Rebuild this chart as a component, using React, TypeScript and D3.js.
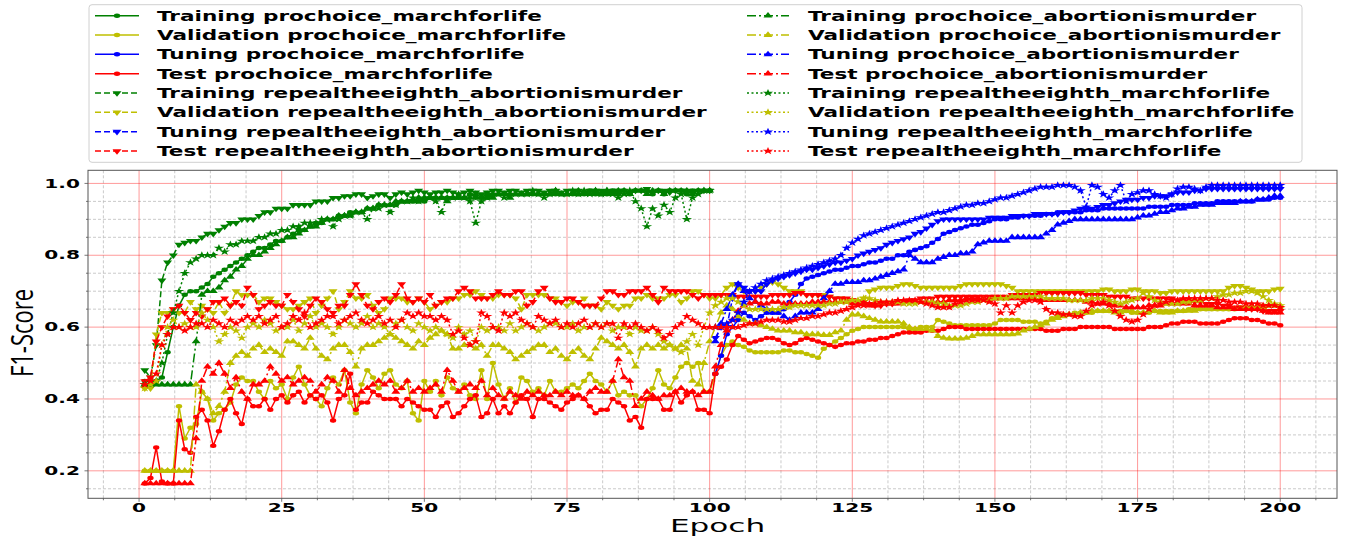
import React, { useEffect, useRef } from "react";
import * as d3 from "d3";

// ---- data (F1 per epoch) ----
// training: epochs 1..100, tuning: epochs 101..200, validation/test: epochs 1..200
const trainProchoiceMarch = [
  0.45, 0.45, 0.45, 0.46, 0.53, 0.6, 0.66, 0.69, 0.7, 0.7,
  0.71, 0.72, 0.74, 0.75, 0.76, 0.77, 0.78, 0.79, 0.8, 0.81,
  0.82, 0.82, 0.83, 0.84, 0.84, 0.85, 0.86, 0.87, 0.87, 0.88,
  0.89, 0.89, 0.9, 0.9, 0.91, 0.91, 0.92, 0.92, 0.92, 0.93,
  0.93, 0.94, 0.94, 0.94, 0.94, 0.95, 0.95, 0.95, 0.95, 0.95,
  0.96, 0.96, 0.96, 0.96, 0.96, 0.96, 0.96, 0.97, 0.96, 0.96,
  0.96, 0.97, 0.97, 0.97, 0.97, 0.97, 0.97, 0.97, 0.97, 0.97,
  0.97, 0.97, 0.97, 0.97, 0.97, 0.97, 0.97, 0.97, 0.98, 0.97,
  0.97, 0.97, 0.98, 0.97, 0.98, 0.97, 0.98, 0.98, 0.98, 0.97,
  0.98, 0.97, 0.98, 0.98, 0.98, 0.97, 0.98, 0.98, 0.98, 0.98,
];
const trainRepealAbortion = [
  0.48, 0.46, 0.55, 0.73, 0.78, 0.8, 0.83, 0.835, 0.84, 0.84,
  0.85, 0.86, 0.86, 0.87, 0.88, 0.89, 0.89, 0.9, 0.9, 0.9,
  0.91, 0.92, 0.92, 0.93, 0.93, 0.93, 0.94, 0.94, 0.94, 0.94,
  0.95, 0.95, 0.95, 0.96, 0.96, 0.965, 0.965, 0.97, 0.97, 0.96,
  0.965, 0.97, 0.97, 0.96, 0.97, 0.975, 0.97, 0.975, 0.98, 0.975,
  0.97, 0.975, 0.975, 0.98, 0.975, 0.97, 0.975, 0.98, 0.975, 0.97,
  0.975, 0.98, 0.98, 0.975, 0.98, 0.98, 0.975, 0.98, 0.98, 0.98,
  0.975, 0.98, 0.98, 0.975, 0.98, 0.98, 0.98, 0.975, 0.98, 0.98,
  0.98, 0.975, 0.98, 0.98, 0.98, 0.975, 0.98, 0.98, 0.985, 0.975,
  0.98, 0.98, 0.975, 0.98, 0.98, 0.98, 0.975, 0.98, 0.98, 0.98,
];
const trainProchoiceAbortion = [
  0.44, 0.44, 0.44, 0.44, 0.44, 0.44, 0.44, 0.44, 0.44, 0.56,
  0.69, 0.7, 0.7, 0.71, 0.73, 0.74, 0.76, 0.77, 0.79, 0.8,
  0.8, 0.81, 0.82, 0.83, 0.84, 0.85, 0.85, 0.86, 0.87, 0.88,
  0.88, 0.89, 0.9, 0.9, 0.91, 0.91, 0.91, 0.92, 0.92, 0.93,
  0.93, 0.94, 0.94, 0.94, 0.95, 0.95, 0.95, 0.95, 0.96, 0.96,
  0.96, 0.96, 0.96, 0.95, 0.96, 0.96, 0.96, 0.96, 0.97, 0.96,
  0.97, 0.96, 0.97, 0.97, 0.96, 0.97, 0.97, 0.97, 0.97, 0.97,
  0.97, 0.97, 0.98, 0.97, 0.97, 0.97, 0.98, 0.97, 0.97, 0.98,
  0.97, 0.98, 0.97, 0.98, 0.98, 0.97, 0.98, 0.98, 0.97, 0.98,
  0.98, 0.97, 0.98, 0.98, 0.98, 0.98, 0.97, 0.98, 0.98, 0.98,
];
const trainRepealMarch = [
  0.44, 0.44, 0.45, 0.5, 0.58, 0.64, 0.7, 0.75, 0.78, 0.79,
  0.8, 0.8, 0.8, 0.82, 0.81, 0.83, 0.83, 0.84, 0.84, 0.84,
  0.85, 0.85, 0.86, 0.86, 0.87, 0.87, 0.88, 0.88, 0.89, 0.89,
  0.89, 0.9, 0.9, 0.88, 0.9, 0.91, 0.91, 0.92, 0.92, 0.9,
  0.93, 0.93, 0.94, 0.92, 0.94, 0.95, 0.95, 0.96, 0.95, 0.96,
  0.96, 0.95, 0.92, 0.96, 0.96, 0.97, 0.96, 0.95, 0.89, 0.95,
  0.96, 0.97, 0.97, 0.96, 0.97, 0.97, 0.97, 0.97, 0.98, 0.97,
  0.96, 0.97, 0.98, 0.97, 0.97, 0.98, 0.97, 0.98, 0.97, 0.98,
  0.97, 0.98, 0.97, 0.96, 0.97, 0.98, 0.95, 0.93, 0.88, 0.93,
  0.91, 0.94, 0.92, 0.96, 0.97, 0.9, 0.96, 0.97, 0.98, 0.98,
];

const tuneProchoiceMarch = [
  0.47, 0.52, 0.58, 0.6, 0.62, 0.64, 0.63, 0.62, 0.63, 0.64,
  0.64, 0.64, 0.65, 0.67, 0.69, 0.72, 0.735, 0.74, 0.745, 0.75,
  0.755, 0.76, 0.76, 0.765, 0.77, 0.77, 0.775, 0.78, 0.78, 0.785,
  0.79, 0.79, 0.8, 0.8, 0.81, 0.815, 0.82, 0.825, 0.835, 0.845,
  0.86, 0.865, 0.87, 0.875, 0.88, 0.885, 0.885, 0.89, 0.895, 0.9,
  0.9, 0.9, 0.905, 0.905, 0.91, 0.91, 0.91, 0.91, 0.915, 0.915,
  0.92, 0.92, 0.92, 0.92, 0.92, 0.925, 0.925, 0.925, 0.93, 0.93,
  0.93, 0.93, 0.93, 0.93, 0.93, 0.93, 0.935, 0.935, 0.935, 0.935,
  0.94, 0.94, 0.94, 0.94, 0.945, 0.945, 0.945, 0.945, 0.95, 0.95,
  0.95, 0.95, 0.95, 0.95, 0.95, 0.955, 0.955, 0.955, 0.96, 0.96,
];
const tuneRepealAbortion = [
  0.57, 0.6, 0.6, 0.68, 0.72, 0.71, 0.7, 0.7, 0.7, 0.72,
  0.73, 0.735, 0.74, 0.745, 0.75, 0.755, 0.76, 0.76, 0.765, 0.77,
  0.775, 0.78, 0.78, 0.785, 0.79, 0.8, 0.805, 0.81, 0.815, 0.82,
  0.83, 0.835, 0.84, 0.845, 0.85, 0.86, 0.865, 0.875, 0.885, 0.895,
  0.9, 0.9, 0.9, 0.9, 0.9, 0.9, 0.9, 0.9, 0.905, 0.905,
  0.905, 0.905, 0.91, 0.91, 0.91, 0.91, 0.915, 0.915, 0.915, 0.915,
  0.915, 0.92, 0.92, 0.925, 0.93, 0.93, 0.93, 0.935, 0.94, 0.94,
  0.945, 0.95, 0.955, 0.955, 0.955, 0.96, 0.96, 0.965, 0.965, 0.965,
  0.97, 0.975, 0.975, 0.975, 0.98, 0.98, 0.985, 0.985, 0.985, 0.985,
  0.985, 0.985, 0.985, 0.985, 0.985, 0.985, 0.985, 0.985, 0.985, 0.985,
];
const tuneProchoiceAbortion = [
  0.56, 0.61, 0.65, 0.69, 0.72, 0.7, 0.68, 0.67, 0.66, 0.65,
  0.64, 0.64, 0.63, 0.62, 0.63, 0.64, 0.64, 0.64, 0.65, 0.68,
  0.7, 0.72, 0.72, 0.725, 0.725, 0.725, 0.73, 0.73, 0.735, 0.74,
  0.745, 0.75, 0.755, 0.76, 0.8, 0.79, 0.78, 0.78, 0.78, 0.79,
  0.795, 0.8, 0.8, 0.805, 0.805, 0.81, 0.83, 0.835, 0.84, 0.84,
  0.84, 0.84, 0.85, 0.85, 0.85, 0.85, 0.85, 0.85, 0.86, 0.87,
  0.885, 0.89, 0.895, 0.9, 0.9, 0.9, 0.9, 0.9, 0.9, 0.9,
  0.9, 0.9, 0.9, 0.9, 0.905, 0.91, 0.91, 0.915, 0.92, 0.92,
  0.925, 0.93, 0.93, 0.935, 0.935, 0.94, 0.94, 0.94, 0.945, 0.945,
  0.945, 0.945, 0.95, 0.95, 0.95, 0.955, 0.955, 0.96, 0.965, 0.965,
];
const tuneRepealMarch = [
  0.6, 0.6, 0.61, 0.62, 0.64, 0.67, 0.7, 0.71, 0.72, 0.73,
  0.735, 0.74, 0.745, 0.75, 0.755, 0.76, 0.765, 0.77, 0.775, 0.78,
  0.785, 0.79, 0.8, 0.82, 0.835, 0.845, 0.855, 0.86, 0.865, 0.87,
  0.875, 0.88, 0.885, 0.89, 0.895, 0.9, 0.905, 0.91, 0.915, 0.92,
  0.92, 0.925, 0.93, 0.935, 0.94, 0.94, 0.945, 0.945, 0.95, 0.955,
  0.96, 0.96, 0.965, 0.97, 0.975, 0.98, 0.985, 0.99, 0.99, 0.99,
  0.995, 0.995, 0.995, 0.99, 0.98, 0.935, 0.995, 0.99, 0.97, 0.96,
  0.98, 0.995, 0.95, 0.97, 0.975, 0.98, 0.98, 0.97, 0.965, 0.96,
  0.97, 0.985, 0.99, 0.99, 0.985, 0.98, 0.99, 0.995, 0.995, 0.995,
  0.995, 0.995, 0.995, 0.995, 0.995, 0.995, 0.995, 0.995, 0.995, 0.995,
];

const valProchoiceMarch = [
  0.2, 0.2, 0.2, 0.2, 0.2, 0.2, 0.38, 0.29, 0.32, 0.33,
  0.42, 0.4, 0.34, 0.36, 0.37, 0.39, 0.44, 0.46, 0.45, 0.45,
  0.42, 0.4, 0.45, 0.43, 0.44, 0.4, 0.46, 0.49, 0.44, 0.41,
  0.4, 0.38, 0.43, 0.46, 0.44, 0.48, 0.39, 0.36, 0.44, 0.48,
  0.46, 0.43, 0.47, 0.48, 0.44, 0.43, 0.45, 0.36, 0.34, 0.45,
  0.42, 0.45, 0.41, 0.46, 0.43, 0.42, 0.44, 0.41, 0.4, 0.48,
  0.4, 0.5, 0.44, 0.4, 0.43, 0.39, 0.46, 0.45, 0.42, 0.43,
  0.41, 0.45, 0.42, 0.42, 0.43, 0.44, 0.43, 0.45, 0.47, 0.45,
  0.44, 0.42, 0.45, 0.41, 0.42, 0.41, 0.41, 0.38, 0.4, 0.43,
  0.48, 0.44, 0.43, 0.46, 0.49, 0.5, 0.49, 0.5, 0.42, 0.42,
  0.47, 0.52, 0.55, 0.56, 0.55, 0.545, 0.535, 0.53, 0.53, 0.53,
  0.53, 0.53, 0.535, 0.535, 0.53, 0.53, 0.525, 0.52, 0.515, 0.54,
  0.55, 0.56, 0.57, 0.58, 0.59, 0.595, 0.6, 0.6, 0.6, 0.6,
  0.6, 0.6, 0.6, 0.6, 0.595, 0.595, 0.6, 0.6, 0.6, 0.62,
  0.615, 0.61, 0.605, 0.605, 0.605, 0.605, 0.605, 0.605, 0.605, 0.61,
  0.62, 0.62, 0.62, 0.62, 0.615, 0.615, 0.615, 0.61, 0.615, 0.625,
  0.63, 0.635, 0.635, 0.64, 0.64, 0.64, 0.64, 0.645, 0.645, 0.645,
  0.645, 0.645, 0.645, 0.64, 0.64, 0.64, 0.64, 0.645, 0.645, 0.645,
  0.645, 0.645, 0.645, 0.65, 0.65, 0.65, 0.65, 0.65, 0.65, 0.65,
  0.65, 0.65, 0.655, 0.655, 0.655, 0.655, 0.66, 0.66, 0.66, 0.655,
];
const valRepealAbortion = [
  0.43, 0.43, 0.58, 0.64, 0.64, 0.65, 0.64, 0.64, 0.67, 0.65,
  0.66, 0.65, 0.64, 0.67, 0.64, 0.66, 0.7, 0.69, 0.69, 0.69,
  0.67, 0.68, 0.68, 0.67, 0.66, 0.65, 0.65, 0.66, 0.67, 0.68,
  0.64, 0.66, 0.68, 0.7, 0.65, 0.67, 0.7, 0.68, 0.68, 0.69,
  0.66, 0.64, 0.65, 0.68, 0.68, 0.68, 0.67, 0.67, 0.68, 0.67,
  0.65, 0.66, 0.67, 0.67, 0.68, 0.68, 0.69, 0.69, 0.7, 0.69,
  0.68, 0.68, 0.69, 0.69, 0.69, 0.68, 0.65, 0.69, 0.69, 0.69,
  0.69, 0.68, 0.68, 0.67, 0.66, 0.67, 0.67, 0.68, 0.66, 0.66,
  0.65, 0.67, 0.66, 0.65, 0.66, 0.66, 0.68, 0.68, 0.69, 0.68,
  0.68, 0.68, 0.69, 0.69, 0.67, 0.68, 0.7, 0.7, 0.69, 0.68,
  0.68, 0.69, 0.71, 0.72, 0.71, 0.7, 0.7, 0.7, 0.71, 0.72,
  0.725, 0.72, 0.71, 0.7, 0.7, 0.7, 0.69, 0.69, 0.69, 0.69,
  0.685, 0.68, 0.68, 0.675, 0.675, 0.67, 0.68, 0.7, 0.705, 0.71,
  0.71, 0.71, 0.715, 0.72, 0.72, 0.715, 0.71, 0.71, 0.71, 0.71,
  0.71, 0.71, 0.71, 0.715, 0.72, 0.72, 0.72, 0.72, 0.72, 0.72,
  0.72, 0.715, 0.71, 0.7, 0.7, 0.7, 0.7, 0.7, 0.7, 0.7,
  0.7, 0.7, 0.7, 0.7, 0.7, 0.7, 0.7, 0.7, 0.705, 0.705,
  0.7, 0.7, 0.7, 0.705, 0.705, 0.7, 0.7, 0.7, 0.695, 0.695,
  0.7, 0.7, 0.7, 0.7, 0.7, 0.7, 0.7, 0.7, 0.7, 0.7,
  0.71, 0.715, 0.715, 0.71, 0.705, 0.7, 0.7, 0.7, 0.705, 0.707,
];
const valProchoiceAbortion = [
  0.2, 0.2, 0.2, 0.2, 0.2, 0.2, 0.2, 0.2, 0.2, 0.44,
  0.42, 0.4, 0.36, 0.38, 0.42, 0.5, 0.52, 0.53, 0.52, 0.54,
  0.55, 0.53, 0.54, 0.53, 0.52, 0.56, 0.56, 0.55, 0.54, 0.57,
  0.54, 0.52, 0.51, 0.54, 0.55, 0.55, 0.53, 0.49, 0.54, 0.55,
  0.55, 0.56, 0.57, 0.58, 0.57, 0.56, 0.55, 0.54, 0.56, 0.55,
  0.57, 0.58, 0.59, 0.58, 0.54, 0.54, 0.55, 0.55, 0.54, 0.55,
  0.52, 0.55, 0.55, 0.54, 0.53, 0.51, 0.52, 0.53, 0.54, 0.55,
  0.55, 0.53, 0.54, 0.52, 0.51, 0.53, 0.54, 0.52, 0.51, 0.54,
  0.57, 0.56, 0.55, 0.54, 0.55, 0.53, 0.49, 0.54, 0.55, 0.54,
  0.55, 0.54, 0.55, 0.54, 0.55, 0.54, 0.45, 0.44, 0.5, 0.56,
  0.6, 0.64, 0.66, 0.65, 0.63, 0.62, 0.61, 0.61, 0.605, 0.6,
  0.595, 0.59, 0.59, 0.59, 0.585, 0.585, 0.58, 0.58, 0.58, 0.578,
  0.578, 0.585, 0.59, 0.62, 0.635, 0.635, 0.63, 0.625, 0.62, 0.615,
  0.615, 0.615, 0.615, 0.61, 0.6, 0.595, 0.595, 0.595, 0.59, 0.575,
  0.57, 0.568, 0.568, 0.568, 0.57, 0.575, 0.58, 0.58, 0.58, 0.58,
  0.58, 0.58, 0.58, 0.582, 0.59, 0.595, 0.6, 0.605, 0.61, 0.62,
  0.625, 0.63, 0.635, 0.635, 0.64, 0.64, 0.645, 0.645, 0.645, 0.645,
  0.64, 0.64, 0.645, 0.645, 0.64, 0.64, 0.645, 0.645, 0.64, 0.64,
  0.64, 0.645, 0.645, 0.645, 0.645, 0.65, 0.65, 0.65, 0.65, 0.65,
  0.65, 0.65, 0.65, 0.655, 0.655, 0.655, 0.655, 0.66, 0.66, 0.66,
];
const valRepealMarch = [
  0.43, 0.44, 0.45, 0.55, 0.6, 0.62, 0.6, 0.61, 0.6, 0.6,
  0.64, 0.62, 0.6, 0.56, 0.58, 0.6, 0.59, 0.57, 0.6, 0.61,
  0.6, 0.62, 0.61, 0.59, 0.6, 0.6, 0.62, 0.59, 0.61, 0.63,
  0.6, 0.61, 0.6, 0.58, 0.6, 0.62, 0.61, 0.6, 0.61, 0.63,
  0.6, 0.61, 0.6, 0.58, 0.61, 0.62, 0.6, 0.59, 0.61, 0.6,
  0.59, 0.6, 0.59, 0.58, 0.57, 0.6, 0.58, 0.59, 0.56, 0.6,
  0.59, 0.6, 0.6, 0.59, 0.61, 0.59, 0.6, 0.61, 0.6, 0.59,
  0.6, 0.61, 0.61, 0.6, 0.6, 0.61, 0.59, 0.6, 0.6, 0.61,
  0.6, 0.61, 0.59, 0.6, 0.6, 0.58, 0.6, 0.59, 0.59, 0.6,
  0.58, 0.56, 0.55, 0.54, 0.53, 0.56, 0.58, 0.55, 0.6, 0.64,
  0.66, 0.67, 0.68, 0.68, 0.67, 0.66, 0.65, 0.65, 0.65, 0.65,
  0.65, 0.65, 0.655, 0.655, 0.66, 0.66, 0.66, 0.66, 0.66, 0.66,
  0.665, 0.665, 0.67, 0.67, 0.675, 0.675, 0.68, 0.68, 0.675, 0.67,
  0.67, 0.67, 0.67, 0.665, 0.665, 0.665, 0.67, 0.67, 0.67, 0.665,
  0.665, 0.66, 0.66, 0.66, 0.665, 0.67, 0.67, 0.675, 0.675, 0.68,
  0.68, 0.68, 0.685, 0.685, 0.685, 0.685, 0.685, 0.685, 0.68, 0.68,
  0.68, 0.68, 0.675, 0.675, 0.675, 0.675, 0.68, 0.68, 0.68, 0.675,
  0.67, 0.665, 0.67, 0.675, 0.68, 0.695, 0.685, 0.675, 0.67, 0.665,
  0.665, 0.665, 0.67, 0.67, 0.675, 0.675, 0.68, 0.68, 0.685, 0.69,
  0.69, 0.695, 0.695, 0.7, 0.7, 0.695, 0.685, 0.675, 0.665, 0.66,
];

const testProchoiceMarch = [
  0.165, 0.18, 0.265, 0.17, 0.165, 0.165, 0.34, 0.26, 0.25, 0.35,
  0.37, 0.34, 0.27, 0.31, 0.37, 0.4, 0.36, 0.33, 0.4, 0.38,
  0.38, 0.4, 0.37, 0.4, 0.41, 0.39, 0.41, 0.42, 0.39, 0.41,
  0.4, 0.41, 0.39, 0.34, 0.4, 0.41, 0.47, 0.37, 0.39, 0.39,
  0.42, 0.41, 0.4, 0.4, 0.4, 0.38, 0.4, 0.39, 0.38, 0.37,
  0.37, 0.35, 0.38, 0.39, 0.35, 0.36, 0.38, 0.4, 0.41, 0.35,
  0.36, 0.4, 0.36, 0.38, 0.36, 0.39, 0.41, 0.4, 0.35, 0.4,
  0.4, 0.39, 0.38, 0.37, 0.39, 0.4, 0.41, 0.4, 0.38, 0.36,
  0.37, 0.37, 0.4, 0.39, 0.38, 0.34, 0.35, 0.32, 0.4, 0.4,
  0.4, 0.37, 0.37, 0.42, 0.39, 0.41, 0.42, 0.37, 0.37, 0.36,
  0.47, 0.49, 0.51, 0.55, 0.575, 0.565, 0.555, 0.56, 0.565, 0.57,
  0.57, 0.565, 0.555, 0.55, 0.555, 0.565, 0.57, 0.565, 0.56, 0.555,
  0.55, 0.545, 0.55, 0.555, 0.555, 0.56, 0.56, 0.565, 0.565, 0.57,
  0.57, 0.575, 0.58, 0.585, 0.585, 0.585, 0.585, 0.59, 0.59, 0.59,
  0.595, 0.6, 0.6, 0.6, 0.595, 0.595, 0.595, 0.595, 0.595, 0.595,
  0.595, 0.595, 0.595, 0.595, 0.595, 0.595, 0.595, 0.595, 0.59, 0.59,
  0.59, 0.595, 0.595, 0.595, 0.6, 0.6, 0.6, 0.6, 0.6, 0.6,
  0.595, 0.595, 0.595, 0.595, 0.595, 0.595, 0.6, 0.6, 0.6, 0.605,
  0.61, 0.61, 0.615, 0.615, 0.615, 0.61, 0.61, 0.61, 0.61, 0.615,
  0.62, 0.625, 0.625, 0.625, 0.62, 0.62, 0.615, 0.61, 0.61, 0.605,
];
const testRepealAbortion = [
  0.45, 0.46, 0.56, 0.6, 0.63, 0.65, 0.66, 0.64, 0.62, 0.64,
  0.63, 0.65, 0.67, 0.67, 0.68, 0.66, 0.67, 0.66, 0.71, 0.69,
  0.65, 0.66, 0.67, 0.66, 0.66, 0.69, 0.67, 0.65, 0.63, 0.66,
  0.68, 0.67, 0.65, 0.64, 0.66, 0.66, 0.69, 0.72, 0.69, 0.66,
  0.65, 0.67, 0.68, 0.67, 0.69, 0.72, 0.68, 0.67, 0.68, 0.67,
  0.69, 0.66, 0.67, 0.68, 0.68, 0.7, 0.71, 0.7, 0.68, 0.68,
  0.68, 0.69, 0.7, 0.69, 0.69, 0.7, 0.7, 0.66, 0.67, 0.7,
  0.71, 0.68, 0.67, 0.67, 0.68, 0.68, 0.67, 0.66, 0.66, 0.66,
  0.68, 0.7, 0.7, 0.69, 0.69, 0.7, 0.7, 0.7, 0.71, 0.69,
  0.67, 0.71, 0.7, 0.7, 0.7, 0.7, 0.69, 0.68, 0.69, 0.69,
  0.69, 0.69, 0.69, 0.69, 0.685, 0.685, 0.685, 0.685, 0.685, 0.685,
  0.69, 0.69, 0.69, 0.69, 0.695, 0.695, 0.69, 0.69, 0.69, 0.685,
  0.685, 0.68, 0.68, 0.68, 0.675, 0.67, 0.67, 0.665, 0.66, 0.66,
  0.665, 0.665, 0.67, 0.67, 0.675, 0.675, 0.68, 0.68, 0.68, 0.685,
  0.685, 0.685, 0.685, 0.685, 0.685, 0.685, 0.685, 0.685, 0.685, 0.685,
  0.685, 0.685, 0.69, 0.69, 0.69, 0.69, 0.69, 0.695, 0.695, 0.695,
  0.695, 0.695, 0.695, 0.695, 0.695, 0.69, 0.69, 0.69, 0.69, 0.685,
  0.685, 0.685, 0.685, 0.68, 0.68, 0.68, 0.68, 0.68, 0.68, 0.68,
  0.68, 0.675, 0.675, 0.67, 0.67, 0.67, 0.665, 0.665, 0.665, 0.66,
  0.66, 0.655, 0.655, 0.65, 0.65, 0.65, 0.645, 0.645, 0.645, 0.645,
];
const testProchoiceAbortion = [
  0.165, 0.165, 0.165, 0.165, 0.165, 0.165, 0.165, 0.165, 0.165, 0.29,
  0.45, 0.49, 0.47, 0.5, 0.47, 0.43, 0.46, 0.42, 0.4, 0.44,
  0.44, 0.45, 0.49, 0.47, 0.45, 0.46, 0.44, 0.45, 0.46, 0.45,
  0.42, 0.44, 0.46, 0.45, 0.42, 0.48, 0.43, 0.41, 0.42, 0.43,
  0.44, 0.45, 0.44, 0.45, 0.42, 0.43, 0.45, 0.42, 0.43, 0.42,
  0.43, 0.44, 0.42, 0.48, 0.45, 0.42, 0.43, 0.44, 0.43, 0.45,
  0.41, 0.43, 0.41, 0.4, 0.42, 0.41, 0.4, 0.42, 0.41, 0.42,
  0.41, 0.41, 0.42, 0.41, 0.42, 0.41, 0.41, 0.4, 0.42, 0.43,
  0.42, 0.42, 0.45, 0.51, 0.46, 0.45, 0.38, 0.4, 0.42, 0.41,
  0.4, 0.41, 0.41, 0.42, 0.43, 0.42, 0.42, 0.41, 0.42, 0.42,
  0.49, 0.55, 0.59, 0.62, 0.645, 0.66, 0.665, 0.67, 0.665, 0.665,
  0.67, 0.67, 0.665, 0.665, 0.665, 0.665, 0.665, 0.67, 0.67, 0.67,
  0.67, 0.67, 0.67, 0.67, 0.665, 0.665, 0.665, 0.66, 0.66, 0.665,
  0.665, 0.665, 0.665, 0.67, 0.67, 0.67, 0.67, 0.67, 0.67, 0.67,
  0.67, 0.675, 0.675, 0.675, 0.68, 0.68, 0.68, 0.68, 0.68, 0.68,
  0.68, 0.68, 0.68, 0.68, 0.68, 0.68, 0.68, 0.675, 0.675, 0.675,
  0.675, 0.675, 0.675, 0.675, 0.675, 0.67, 0.67, 0.665, 0.665, 0.665,
  0.66, 0.66, 0.655, 0.655, 0.655, 0.655, 0.66, 0.66, 0.66, 0.665,
  0.665, 0.665, 0.665, 0.665, 0.66, 0.66, 0.66, 0.66, 0.655, 0.655,
  0.655, 0.65, 0.65, 0.65, 0.65, 0.65, 0.645, 0.64, 0.64, 0.64,
];
const testRepealMarch = [
  0.44, 0.45, 0.47, 0.55, 0.58, 0.6, 0.6, 0.59, 0.6, 0.61,
  0.61, 0.6, 0.62, 0.61, 0.6, 0.62, 0.61, 0.62, 0.63, 0.62,
  0.63, 0.61, 0.62, 0.63, 0.6, 0.61, 0.63, 0.62, 0.64, 0.6,
  0.61, 0.62, 0.63, 0.63, 0.61, 0.62, 0.63, 0.64, 0.62, 0.61,
  0.62, 0.63, 0.61, 0.62, 0.6, 0.62, 0.64, 0.63, 0.64, 0.63,
  0.63, 0.62, 0.63, 0.62, 0.58, 0.59, 0.57, 0.55, 0.56, 0.64,
  0.63, 0.6, 0.59, 0.64, 0.63, 0.64, 0.62, 0.61, 0.6, 0.63,
  0.62, 0.61, 0.62, 0.6, 0.61, 0.6, 0.61, 0.62, 0.6, 0.61,
  0.6, 0.61, 0.61, 0.57, 0.61, 0.6, 0.61, 0.6, 0.59, 0.6,
  0.59, 0.57, 0.58, 0.6, 0.61, 0.63, 0.62, 0.61, 0.6, 0.6,
  0.6, 0.6, 0.6, 0.6, 0.6, 0.605, 0.61, 0.61, 0.615, 0.62,
  0.62, 0.62, 0.615, 0.615, 0.62, 0.625, 0.625, 0.63, 0.63, 0.635,
  0.64, 0.64, 0.645, 0.65, 0.655, 0.66, 0.66, 0.665, 0.665, 0.67,
  0.67, 0.67, 0.675, 0.675, 0.675, 0.675, 0.67, 0.665, 0.66, 0.655,
  0.655, 0.655, 0.665, 0.67, 0.675, 0.675, 0.675, 0.675, 0.67, 0.665,
  0.64, 0.66, 0.64, 0.66, 0.67, 0.675, 0.675, 0.67, 0.65, 0.64,
  0.64, 0.635, 0.635, 0.63, 0.63, 0.645, 0.66, 0.665, 0.67, 0.66,
  0.645, 0.63, 0.62, 0.615, 0.62, 0.635, 0.65, 0.66, 0.665, 0.67,
  0.675, 0.675, 0.68, 0.68, 0.68, 0.68, 0.68, 0.68, 0.675, 0.675,
  0.67, 0.67, 0.67, 0.665, 0.665, 0.665, 0.66, 0.66, 0.66, 0.655,
];

const xTickLabels = ["0", "25", "50", "75", "100", "125", "150", "175", "200"];
const yTickLabels = ["0.2", "0.4", "0.6", "0.8", "1.0"];

const series = [
  { label: "Training prochoice_marchforlife", values: trainProchoiceMarch, start: 1, color: "#008000", style: "solid", marker: "circle" },
  { label: "Validation prochoice_marchforlife", values: valProchoiceMarch, start: 1, color: "#bfbf00", style: "solid", marker: "circle" },
  { label: "Tuning prochoice_marchforlife", values: tuneProchoiceMarch, start: 101, color: "#0000ff", style: "solid", marker: "circle" },
  { label: "Test prochoice_marchforlife", values: testProchoiceMarch, start: 1, color: "#ff0000", style: "solid", marker: "circle" },
  { label: "Training repealtheeighth_abortionismurder", values: trainRepealAbortion, start: 1, color: "#008000", style: "dashed", marker: "down" },
  { label: "Validation repealtheeighth_abortionismurder", values: valRepealAbortion, start: 1, color: "#bfbf00", style: "dashed", marker: "down" },
  { label: "Tuning repealtheeighth_abortionismurder", values: tuneRepealAbortion, start: 101, color: "#0000ff", style: "dashed", marker: "down" },
  { label: "Test repealtheeighth_abortionismurder", values: testRepealAbortion, start: 1, color: "#ff0000", style: "dashed", marker: "down" },
  { label: "Training prochoice_abortionismurder", values: trainProchoiceAbortion, start: 1, color: "#008000", style: "dashdot", marker: "up" },
  { label: "Validation prochoice_abortionismurder", values: valProchoiceAbortion, start: 1, color: "#bfbf00", style: "dashdot", marker: "up" },
  { label: "Tuning prochoice_abortionismurder", values: tuneProchoiceAbortion, start: 101, color: "#0000ff", style: "dashdot", marker: "up" },
  { label: "Test prochoice_abortionismurder", values: testProchoiceAbortion, start: 1, color: "#ff0000", style: "dashdot", marker: "up" },
  { label: "Training repealtheeighth_marchforlife", values: trainRepealMarch, start: 1, color: "#008000", style: "dotted", marker: "star" },
  { label: "Validation repealtheeighth_marchforlife", values: valRepealMarch, start: 1, color: "#bfbf00", style: "dotted", marker: "star" },
  { label: "Tuning repealtheeighth_marchforlife", values: tuneRepealMarch, start: 101, color: "#0000ff", style: "dotted", marker: "star" },
  { label: "Test repealtheeighth_marchforlife", values: testRepealMarch, start: 1, color: "#ff0000", style: "dotted", marker: "star" },
];

const dashes = { solid: null, dashed: "6,3", dashdot: "9,3,2,3", dotted: "2,2.5" };

const symbolPath = (marker) => {
  if (marker === "circle") return d3.symbol().type(d3.symbolCircle).size(16)();
  if (marker === "star") return d3.symbol().type(d3.symbolStar).size(18)();
  return d3.symbol().type(d3.symbolTriangle).size(18)();
};

const App = () => {
  const svgRef = useRef(null);

  useEffect(() => {
    const width = 1347;
    const height = 536;
    const left = 88, right = 1337, top = 170.3, bottom = 498.3;

    const svg = d3.select(svgRef.current);
    svg.selectAll("*").remove();
    svg.attr("width", width).attr("height", height);
    svg.append("rect").attr("width", width).attr("height", height).attr("fill", "#fff");

    const x = d3.scaleLinear().domain([-8.95, 209.95]).range([left, right]);
    const y = d3.scaleLinear().domain([0.1235, 1.0365]).range([bottom, top]);

    const grid = svg.append("g");
    // minor grid
    const minorX = d3.range(-1, 34).map((i) => i * 6.25).filter((v, i) => (i + 3) % 4 !== 0 && v < 209.95);
    const minorY = d3.range(3, 21).filter((i) => i % 4 !== 0).map((i) => i * 0.05);
    grid.selectAll(".mx").data(minorX).join("line")
      .attr("x1", (d) => x(d)).attr("x2", (d) => x(d)).attr("y1", top).attr("y2", bottom)
      .attr("stroke", "#bdbdbd").attr("stroke-width", 0.8).attr("stroke-dasharray", "3,2");
    grid.selectAll(".my").data(minorY).join("line")
      .attr("x1", left).attr("x2", right).attr("y1", (d) => y(d)).attr("y2", (d) => y(d))
      .attr("stroke", "#bdbdbd").attr("stroke-width", 0.8).attr("stroke-dasharray", "3,2");
    // major grid
    const majorX = xTickLabels.map(Number);
    const majorY = yTickLabels.map(Number);
    grid.selectAll(".Mx").data(majorX).join("line")
      .attr("x1", (d) => x(d)).attr("x2", (d) => x(d)).attr("y1", top).attr("y2", bottom)
      .attr("stroke", "#ff0000").attr("stroke-opacity", 0.4).attr("stroke-width", 1);
    grid.selectAll(".My").data(majorY).join("line")
      .attr("x1", left).attr("x2", right).attr("y1", (d) => y(d)).attr("y2", (d) => y(d))
      .attr("stroke", "#ff0000").attr("stroke-opacity", 0.4).attr("stroke-width", 1);

    // series
    const plot = svg.append("g");
    series.forEach((s) => {
      const pts = s.values.map((v, i) => [s.start + i, v]);
      const line = d3.line().x((d) => x(d[0])).y((d) => y(d[1]));
      plot.append("path")
        .attr("d", line(pts))
        .attr("fill", "none")
        .attr("stroke", s.color)
        .attr("stroke-width", 1.5)
        .attr("stroke-dasharray", dashes[s.style]);
      const sym = symbolPath(s.marker);
      plot.append("g").selectAll("path").data(pts).join("path")
        .attr("d", sym)
        .attr("transform", (d) => `translate(${x(d[0])},${y(d[1])}) scale(1.4,1)${s.marker === "down" ? " rotate(180)" : ""}`)
        .attr("fill", s.color);
    });

    // spines
    svg.append("rect")
      .attr("x", left).attr("y", top).attr("width", right - left).attr("height", bottom - top)
      .attr("fill", "none").attr("stroke", "#555").attr("stroke-width", 1);

    // ticks
    const ticks = svg.append("g").attr("stroke", "#555").attr("stroke-width", 0.8);
    minorY.forEach((v) => ticks.append("line").attr("x1", left - 2).attr("x2", left).attr("y1", y(v)).attr("y2", y(v)));
    majorY.forEach((v) => ticks.append("line").attr("x1", left - 3.5).attr("x2", left).attr("y1", y(v)).attr("y2", y(v)));
    minorX.forEach((v) => ticks.append("line").attr("x1", x(v)).attr("x2", x(v)).attr("y1", bottom).attr("y2", bottom + 2));
    majorX.forEach((v) => ticks.append("line").attr("x1", x(v)).attr("x2", x(v)).attr("y1", bottom).attr("y2", bottom + 3.5));

    const font = "'DejaVu Sans', sans-serif";
    xTickLabels.forEach((t) => {
      svg.append("text")
        .attr("transform", `translate(${x(+t)},${511.7}) scale(1.75,1)`)
        .attr("text-anchor", "middle")
        .attr("font-family", font).attr("font-weight", "bold").attr("font-size", 11.5)
        .attr("fill", "#000").text(t);
    });
    yTickLabels.forEach((t) => {
      svg.append("text")
        .attr("transform", `translate(80,${y(+t) + 4.2}) scale(1.75,1)`)
        .attr("text-anchor", "end")
        .attr("font-family", font).attr("font-weight", "bold").attr("font-size", 11.5)
        .attr("fill", "#000").text(t);
    });

    svg.append("text")
      .attr("transform", `translate(${(left + right) / 2 + 5},531.5) scale(1.7,1)`)
      .attr("text-anchor", "middle")
      .attr("font-family", font).attr("font-size", 18.3).attr("fill", "#000")
      .text("Epoch");
    svg.append("text")
      .attr("transform", `translate(33,333) scale(1.4,1) rotate(-90)`)
      .attr("text-anchor", "middle")
      .attr("font-family", "'Open Sans', sans-serif").attr("font-size", 22).attr("fill", "#000")
      .text("F1-Score");

    // legend
    const lg = svg.append("g");
    lg.append("rect")
      .attr("x", 89).attr("y", 4.7).attr("width", 1302 - 89).attr("height", 162.3 - 4.7)
      .attr("rx", 3).attr("fill", "#fff").attr("fill-opacity", 0.8)
      .attr("stroke", "#d0d0d0").attr("stroke-width", 1);
    series.forEach((s, i) => {
      const col = i < 8 ? 0 : 1;
      const row = i % 8;
      const cy = 15.7 + row * 19.33;
      const hx = col === 0 ? 95 : 747;
      const hw = col === 0 ? 44 : 42;
      const tx = col === 0 ? 157 : 808;
      lg.append("line")
        .attr("x1", hx).attr("x2", hx + hw).attr("y1", cy).attr("y2", cy)
        .attr("stroke", s.color).attr("stroke-width", 1.5)
        .attr("stroke-dasharray", dashes[s.style]);
      lg.append("path")
        .attr("d", symbolPath(s.marker))
        .attr("transform", `translate(${hx + hw / 2},${cy}) scale(1.4,1)${s.marker === "down" ? " rotate(180)" : ""}`)
        .attr("fill", s.color);
      lg.append("text")
        .attr("transform", `translate(${tx},${cy + 5}) scale(1.575,1)`)
        .attr("font-family", font).attr("font-weight", "bold").attr("font-size", 13.7)
        .attr("fill", "#000").text(s.label);
    });
  }, []);

  return <svg ref={svgRef} style={{ position: "absolute", left: 0, top: 0, display: "block" }}></svg>;
};

export default App;
